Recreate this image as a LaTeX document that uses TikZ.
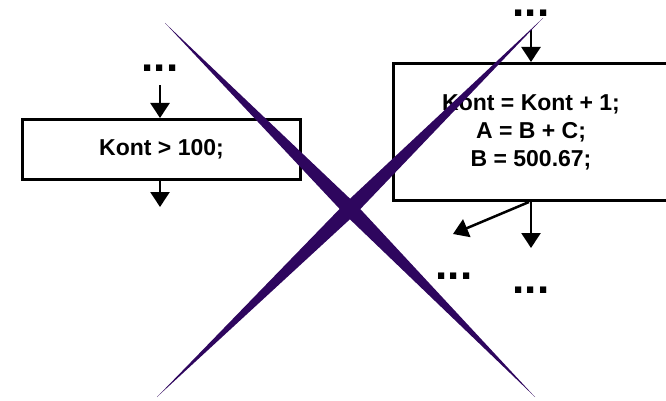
\documentclass[tikz,border=0pt]{standalone}
\usepackage{fontspec}
\setmainfont{Liberation Sans}
\usepackage{tikz}
\usetikzlibrary{arrows.meta, positioning, calc}
\definecolor{crossviolet}{RGB}{46,6,94}

\begin{document}
\begin{tikzpicture}[
  x=1pt, y=-1pt,
  box/.style={rectangle, draw, line width=3pt, inner sep=0pt, align=center,
              font=\bfseries\fontsize{23}{28}\selectfont},
  dots/.style={inner sep=0pt, font=\bfseries\fontsize{44}{44}\selectfont},
  arrow/.style={-{Triangle[length=15pt, width=19pt]}, line width=2.5pt},
  spike/.style={fill=crossviolet},
]
\useasboundingbox (0,0) rectangle (666,401);

% Left block: condition
\node[dots] (dotsL) at (160,68) {...};
\node[box, minimum width=278pt, minimum height=60pt] (cond) at (161.5,149.5) {Kont > 100;};
\draw[arrow, shorten <=14pt] (dotsL) -- (dotsL |- cond.north);
\coordinate (condOut) at (160,207);
\draw[arrow] (condOut |- cond.south) -- (condOut);

% Right block: assignments
\node[dots] (dotsTR) at (531,13) {...};
\node[box, minimum width=275pt, minimum height=137pt] (assign) at (531,132)
  {Kont = Kont + 1;\\A = B + C;\\B = 500.67;};
\draw[arrow, shorten <=14pt] (dotsTR) -- (dotsTR |- assign.north);
\coordinate (assignOut) at (531,248);
\draw[arrow] (assign.south) -- (assignOut);
\coordinate (assignSide) at (453,234);
\draw[arrow] ([xshift=-2pt]assign.south) -- (assignSide);
\node[dots] (dotsBL) at (454,276) {...};
\node[dots] (dotsBR) at (531,290) {...};

% The big cross on top
\coordinate (xc) at (350,209);
\coordinate (tl) at (165,23);
\coordinate (br) at (535,397);
\coordinate (tr) at (543,18);
\coordinate (bl) at (157,397);
\fill[spike] (tl) -- ($(xc)!7.5pt!90:(tl)$) -- (br) -- ($(xc)!7.5pt!-90:(tl)$) -- cycle;
\fill[spike] (tr) -- ($(xc)!7.5pt!90:(tr)$) -- (bl) -- ($(xc)!7.5pt!-90:(tr)$) -- cycle;

\end{tikzpicture}
\end{document}
